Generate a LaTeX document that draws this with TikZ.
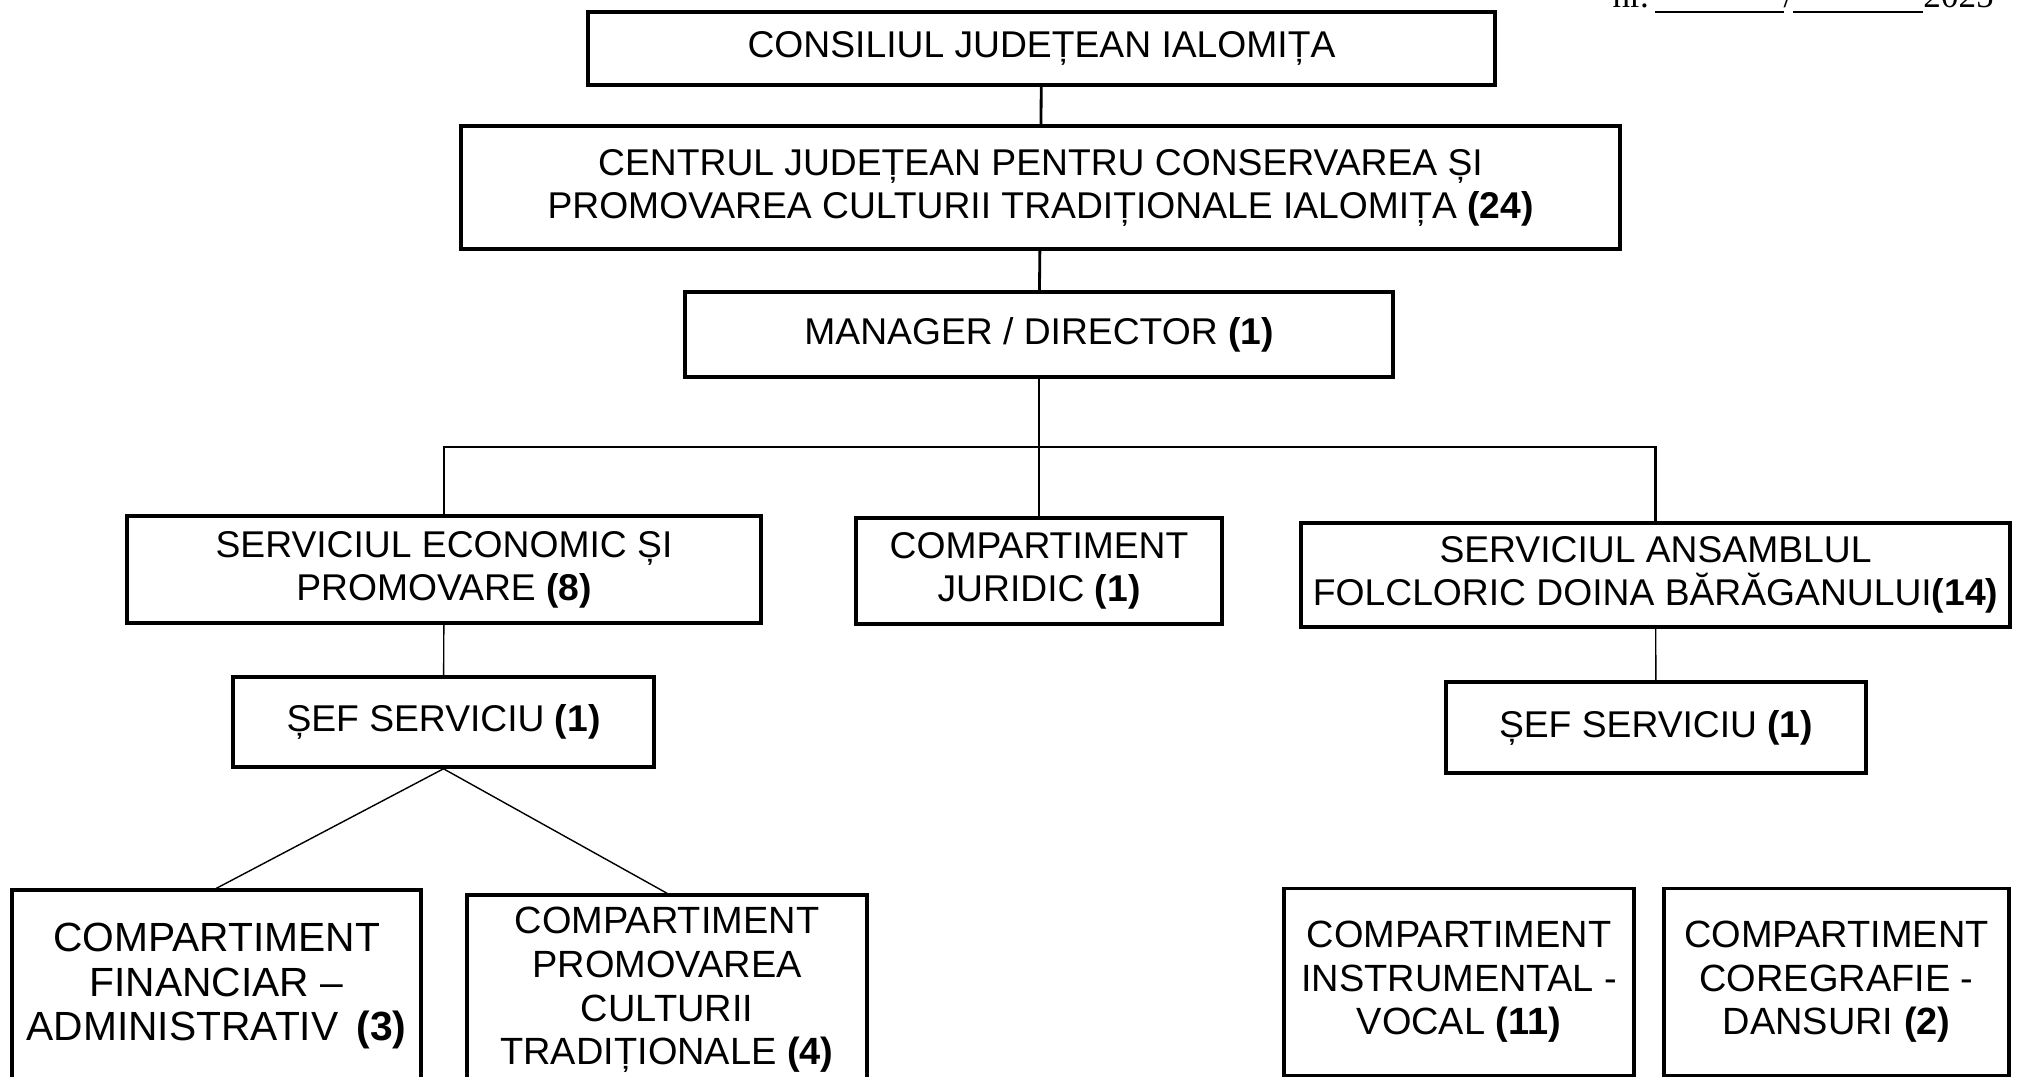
\documentclass[tikz,border=0pt]{standalone}
\usepackage{fontspec}
\setmainfont{Liberation Sans}
\newfontfamily\serifnr{Liberation Serif}

\begin{document}
\begin{tikzpicture}[
  box/.style={draw=black, line width=1pt, inner sep=0pt, align=center,
    font=\fontsize{10.6}{12.2}\selectfont},
  lowbox/.style={box, font=\fontsize{10.8}{12.4}\selectfont},
  bigbox/.style={box, font=\fontsize{11.6}{12.6}\selectfont},
  link/.style={draw=black, line width=0.8pt},
  thin/.style={draw=black, line width=0.4pt}]
\useasboundingbox (0,0) rectangle (20.19,-10.76);
\fill[white] (0,0) rectangle (20.19,-10.76);
% number of the document, cut at the top
\node[anchor=base west, inner sep=0pt, font=\serifnr\fontsize{10}{12}\selectfont] (nr) at (16.12,-0.07)
  {nr.\,\rule[-1.6pt]{1.29cm}{0.5pt}/\rule[-1.6pt]{1.3cm}{0.5pt}2025};
% upper levels
\node[box, minimum width=9.07cm, minimum height=0.73cm] (consiliu) at (10.415,-0.485)
  {CONSILIUL JUDEȚEAN IALOMIȚA};
\node[box, minimum width=11.59cm, minimum height=1.23cm] (centru) at (10.405,-1.875)
  {CENTRUL JUDEȚEAN PENTRU CONSERVAREA ȘI\\PROMOVAREA CULTURII TRADIȚIONALE IALOMIȚA \textbf{(24)}};
\node[box, minimum width=7.08cm, minimum height=0.85cm] (manager) at (10.39,-3.345)
  {MANAGER / DIRECTOR \textbf{(1)}};
\coordinate (bus) at (10.39,-4.47);
% services
\node[box, minimum width=6.34cm, minimum height=1.07cm] (economic) at (4.44,-5.695)
  {SERVICIUL ECONOMIC ȘI\\PROMOVARE \textbf{(8)}};
\node[box, minimum width=3.66cm, minimum height=1.06cm] (juridic) at (10.39,-5.71)
  {COMPARTIMENT\\JURIDIC \textbf{(1)}};
\node[box, minimum width=7.09cm, minimum height=1.04cm] (ansamblu) at (16.555,-5.75)
  {SERVICIUL ANSAMBLUL\\FOLCLORIC DOINA BĂRĂGANULUI\textbf{(14)}};
\node[box, minimum width=4.21cm, minimum height=0.90cm] (sefeco) at (4.435,-7.22)
  {ȘEF SERVICIU \textbf{(1)}};
\node[box, minimum width=4.20cm, minimum height=0.91cm] (sefans) at (16.56,-7.275)
  {ȘEF SERVICIU \textbf{(1)}};
% compartments
\node[bigbox, minimum width=4.09cm, minimum height=1.92cm] (financiar) at (2.165,-9.86)
  {COMPARTIMENT\\FINANCIAR --\\ADMINISTRATIV\, \textbf{(3)}};
\node[lowbox, minimum width=4.0cm, minimum height=1.90cm] (promovare) at (6.67,-9.90)
  {COMPARTIMENT\\PROMOVAREA\\CULTURII\\TRADIȚIONALE \textbf{(4)}};
\node[lowbox, minimum width=3.50cm, minimum height=1.87cm] (instrumental) at (14.59,-9.82)
  {COMPARTIMENT\\INSTRUMENTAL -\\VOCAL \textbf{(11)}};
\node[lowbox, minimum width=3.45cm, minimum height=1.87cm] (coregrafie) at (18.365,-9.82)
  {COMPARTIMENT\\COREGRAFIE -\\DANSURI \textbf{(2)}};
% connectors
\draw[link] (consiliu) -- (centru);
\draw[link] (centru) -- (manager);
\draw[link] (manager) -- (juridic);
\draw[link] (economic.north) |- (bus) -| (ansamblu.north);
\draw[thin] (economic) -- (sefeco);
\draw[thin] (ansamblu) -- (sefans);
\draw[thin] (sefeco.south) -- (financiar.north);
\draw[thin] (sefeco.south) -- (promovare.north);
\end{tikzpicture}
\end{document}
